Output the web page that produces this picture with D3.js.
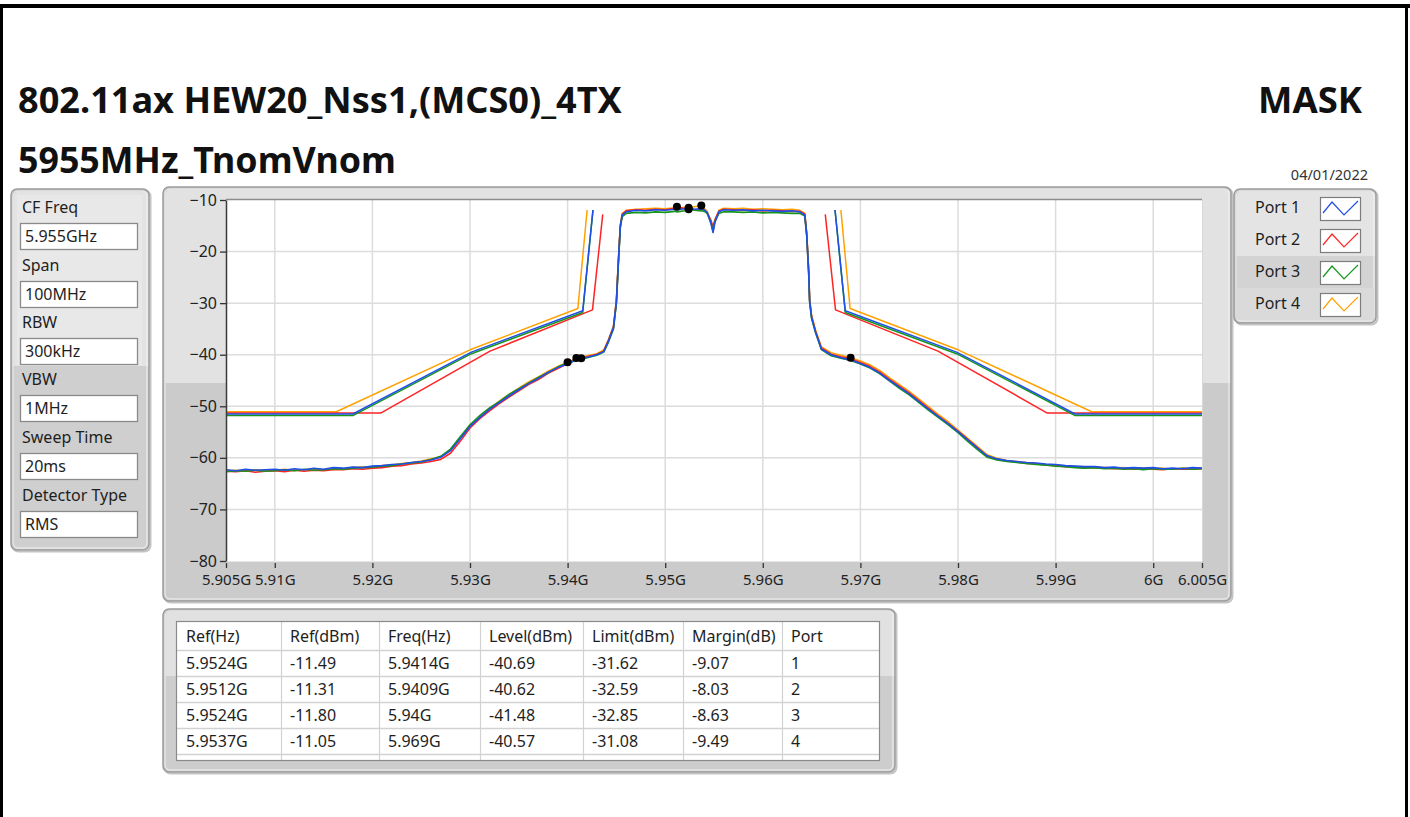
<!DOCTYPE html>
<html>
<head>
<meta charset="utf-8">
<script src="https://cdn.jsdelivr.net/npm/d3@7"></script>
<style>
  html, body { margin: 0; padding: 0; background: #ffffff; }
  svg { display: block; font-family: "Noto Sans", "Open Sans", sans-serif; }
</style>
</head>
<body>
<svg id="chart" width="1410" height="817"></svg>
<script>
// ---------- header texts ----------
const titleLine1 = "802.11ax HEW20_Nss1,(MCS0)_4TX";
const titleLine2 = "5955MHz_TnomVnom";
const modeLabel = "MASK";
const testDate = "04/01/2022";

// ---------- analyzer settings panel ----------
const settingNames = ["CF Freq", "Span", "RBW", "VBW", "Sweep Time", "Detector Type"];
const settingValues = ["5.955GHz", "100MHz", "300kHz", "1MHz", "20ms", "RMS"];

// ---------- axes ----------
const freqDomain = [5.905, 6.005];          // GHz
const levelDomain = [-80, -10];             // dBm
const xTickValues = [5.905, 5.91, 5.92, 5.93, 5.94, 5.95, 5.96, 5.97, 5.98, 5.99, 6.0, 6.005];
const xTickLabels = ["5.905G", "5.91G", "5.92G", "5.93G", "5.94G", "5.95G", "5.96G", "5.97G", "5.98G", "5.99G", "6G", "6.005G"];
const yTickValues = [-10, -20, -30, -40, -50, -60, -70, -80];

// ---------- ports ----------
const portNames = ["Port 1", "Port 2", "Port 3", "Port 4"];
const portColors = ["#1f4fe6", "#ff2424", "#17961b", "#ffa200"];

// ---------- measured spectrum (GHz / dBm) ----------
const traceFreq = [
  5.905, 5.906, 5.907, 5.908, 5.909, 5.910, 5.911, 5.912, 5.913, 5.914,
  5.915, 5.916, 5.917, 5.918, 5.919, 5.920, 5.921, 5.922, 5.923, 5.924,
  5.925, 5.926, 5.927, 5.928, 5.929, 5.930, 5.931, 5.932, 5.933, 5.934,
  5.935, 5.936, 5.937, 5.938, 5.939, 5.940, 5.9409, 5.9414, 5.942, 5.943,
  5.9437, 5.9442, 5.9447, 5.9450, 5.9452, 5.9454, 5.9456, 5.946, 5.947, 5.948,
  5.949, 5.950, 5.951, 5.9512, 5.952, 5.9524, 5.953, 5.9537, 5.954, 5.9543,
  5.9547, 5.9549, 5.9551, 5.9555, 5.956, 5.957, 5.958, 5.959, 5.960, 5.961,
  5.962, 5.963, 5.9638, 5.9643, 5.9645, 5.9647, 5.9648, 5.9650, 5.9654, 5.966,
  5.967, 5.968, 5.969, 5.970, 5.971, 5.972, 5.973, 5.974, 5.975, 5.976,
  5.977, 5.978, 5.979, 5.980, 5.981, 5.982, 5.983, 5.984, 5.985, 5.986,
  5.987, 5.988, 5.989, 5.990, 5.991, 5.992, 5.993, 5.994, 5.995, 5.996,
  5.997, 5.998, 5.999, 6.000, 6.001, 6.002, 6.003, 6.004, 6.005
];
const levelPort1 = [
  -62.3, -62.5, -62.2, -62.4, -62.3, -62.2, -62.4, -62.1, -62.3, -62.0,
  -62.2, -61.9, -62.0, -61.8, -61.9, -61.6, -61.5, -61.3, -61.2, -60.9,
  -60.7, -60.4, -59.9, -58.6, -56.3, -53.9, -52.2, -50.6, -49.3, -48.0,
  -46.8, -45.6, -44.6, -43.4, -42.5, -41.8, -41.0, -40.69, -40.5, -40.0,
  -39.4, -37.3, -34.8, -29.8, -22.1, -15.0, -12.9, -12.3, -12.0, -12.1,
  -11.9, -12.0, -11.8, -11.9, -11.7, -11.49, -11.8, -11.7, -11.9, -12.4,
  -14.6, -16.3, -14.3, -12.3, -11.9, -12.0, -11.9, -12.1, -12.0, -12.1,
  -12.2, -12.1, -12.3, -12.9, -16.8, -24.0, -29.6, -32.8, -35.6, -38.9,
  -40.0, -40.6, -41.0, -41.7, -42.5, -43.6, -45.0, -46.3, -47.6, -49.1,
  -50.6, -52.0, -53.4, -54.9, -56.5, -58.1, -59.6, -60.2, -60.5, -60.7,
  -60.9, -61.0, -61.2, -61.3, -61.5, -61.6, -61.7, -61.7, -61.9, -61.8,
  -62.0, -61.9, -62.0, -61.9, -62.1, -62.0, -62.1, -61.9, -62.0
];
const levelPort2 = [
  -62.6, -62.7, -62.5, -62.8, -62.6, -62.5, -62.7, -62.4, -62.6, -62.4,
  -62.5, -62.3, -62.3, -62.1, -62.2, -62.0, -61.9, -61.6, -61.5, -61.2,
  -61.0, -60.7, -60.3, -59.1, -56.8, -54.2, -52.4, -50.9, -49.5, -48.2,
  -47.0, -45.8, -44.8, -43.6, -42.7, -41.7, -40.62, -40.6, -40.4, -39.9,
  -39.3, -37.1, -34.6, -29.5, -22.0, -15.1, -12.8, -12.1, -11.9, -12.0,
  -11.8, -11.9, -11.6, -11.31, -11.7, -11.7, -11.9, -11.8, -12.0, -12.5,
  -14.0, -15.2, -13.8, -12.2, -11.8, -11.9, -12.0, -11.9, -12.1, -12.0,
  -12.1, -12.2, -12.2, -12.7, -16.5, -23.7, -29.4, -32.6, -35.4, -38.7,
  -39.9, -40.4, -40.8, -41.5, -42.3, -43.4, -44.8, -46.1, -47.4, -48.9,
  -50.4, -51.9, -53.3, -54.8, -56.4, -58.0, -59.7, -60.3, -60.6, -60.8,
  -61.1, -61.2, -61.4, -61.5, -61.7, -61.8, -61.9, -61.9, -62.0, -62.1,
  -62.1, -62.2, -62.1, -62.2, -62.3, -62.1, -62.2, -62.2, -62.1
];
const levelPort3 = [
  -62.7, -62.5, -62.6, -62.4, -62.6, -62.5, -62.3, -62.5, -62.2, -62.4,
  -62.3, -62.1, -62.2, -62.0, -61.9, -61.8, -61.6, -61.5, -61.2, -61.0,
  -60.8, -60.3, -59.7, -58.3, -55.9, -53.6, -51.8, -50.3, -49.1, -47.7,
  -46.6, -45.5, -44.4, -43.5, -42.4, -41.48, -41.1, -40.8, -40.6, -40.1,
  -39.5, -37.5, -35.0, -30.0, -22.4, -15.4, -13.2, -12.6, -12.4, -12.5,
  -12.3, -12.4, -12.2, -12.3, -12.1, -11.80, -12.0, -12.1, -12.2, -12.6,
  -14.4, -16.0, -14.1, -12.6, -12.3, -12.3, -12.4, -12.3, -12.5, -12.4,
  -12.5, -12.6, -12.6, -13.1, -17.0, -24.2, -29.9, -33.0, -35.7, -39.0,
  -40.2, -40.7, -41.1, -41.8, -42.6, -43.7, -45.1, -46.5, -47.8, -49.3,
  -50.8, -52.2, -53.6, -55.1, -56.8, -58.4, -59.9, -60.4, -60.7, -60.9,
  -61.1, -61.3, -61.4, -61.6, -61.7, -61.9, -62.0, -61.9, -62.1, -62.0,
  -62.2, -62.1, -62.3, -62.1, -62.2, -62.2, -62.0, -62.2, -62.1
];
const levelPort4 = [
  -62.5, -62.4, -62.6, -62.3, -62.5, -62.4, -62.2, -62.4, -62.3, -62.1,
  -62.3, -62.0, -62.1, -61.9, -61.8, -61.7, -61.5, -61.4, -61.1, -60.9,
  -60.6, -60.2, -59.8, -58.5, -56.1, -53.7, -51.9, -50.4, -49.0, -47.7,
  -46.5, -45.3, -44.3, -43.2, -42.3, -41.5, -40.8, -40.5, -40.2, -39.8,
  -39.1, -37.0, -34.5, -29.4, -21.8, -14.8, -12.6, -12.0, -11.8, -11.7,
  -11.6, -11.7, -11.5, -11.6, -11.4, -11.5, -11.3, -11.05, -11.6, -12.2,
  -14.3, -15.9, -14.0, -12.0, -11.6, -11.7, -11.6, -11.8, -11.7, -11.8,
  -11.9, -11.8, -12.0, -12.6, -16.4, -23.6, -29.3, -32.4, -35.2, -38.5,
  -39.6, -40.1, -40.57, -41.2, -42.0, -43.1, -44.5, -45.8, -47.1, -48.6,
  -50.1, -51.6, -53.0, -54.6, -56.2, -57.8, -59.4, -60.1, -60.5, -60.7,
  -60.9, -61.1, -61.3, -61.4, -61.6, -61.7, -61.8, -61.8, -61.9, -62.0,
  -61.9, -62.1, -62.0, -62.1, -62.0, -62.2, -62.0, -62.1, -62.0
];

// ---------- spectrum emission masks: [GHz, dBm] vertices, lower and upper side ----------
const maskPort1Low  = [[5.905, -51.49], [5.918, -51.49], [5.93015, -39.49], [5.94155, -31.49], [5.9426, -11.94]];
const maskPort1High = [[5.9674, -11.94], [5.96845, -31.49], [5.97985, -39.49], [5.992, -51.49], [6.005, -51.49]];
const maskPort2Low  = [[5.905, -51.31], [5.92085, -51.31], [5.93205, -39.31], [5.94255, -31.31], [5.9436, -12.8]];
const maskPort2High = [[5.9664, -12.8], [5.96745, -31.31], [5.97795, -39.31], [5.98915, -51.31], [6.005, -51.31]];
const maskPort3Low  = [[5.905, -51.80], [5.918, -51.80], [5.93015, -39.80], [5.94155, -31.80], [5.9426, -11.94]];
const maskPort3High = [[5.9674, -11.94], [5.96845, -31.80], [5.97985, -39.80], [5.992, -51.80], [6.005, -51.80]];
const maskPort4Low  = [[5.905, -51.05], [5.9163, -51.05], [5.930, -39.05], [5.94105, -31.05], [5.942, -11.94]];
const maskPort4High = [[5.968, -11.94], [5.96895, -31.05], [5.980, -39.05], [5.9937, -51.05], [6.005, -51.05]];

// ---------- results table ----------
const tableHeaders = ["Ref(Hz)", "Ref(dBm)", "Freq(Hz)", "Level(dBm)", "Limit(dBm)", "Margin(dB)", "Port"];
const refFreqGHz = [5.9524, 5.9512, 5.9524, 5.9537];
const refLevel = [-11.49, -11.31, -11.80, -11.05];
const worstFreqGHz = [5.9414, 5.9409, 5.94, 5.969];
const worstLevel = [-40.69, -40.62, -41.48, -40.57];
const limitLevel = [-31.62, -32.59, -32.85, -31.08];
const marginDb = [-9.07, -8.03, -8.63, -9.49];
const portNumbers = [1, 2, 3, 4];

// ======================================================================
const svg = d3.select("#chart");
const FONT = '"Noto Sans", "Open Sans", sans-serif';
const LABEL_SIZE = 16;
const XTICK_SIZE = 15;

// page frame
svg.append("rect").attr("x", 0).attr("y", 0).attr("width", 1410).attr("height", 817).attr("fill", "#ffffff");
svg.append("rect").attr("x", 0).attr("y", 4).attr("width", 1410).attr("height", 4).attr("fill", "#000");
svg.append("rect").attr("x", 0).attr("y", 4).attr("width", 3).attr("height", 813).attr("fill", "#000");
svg.append("rect").attr("x", 1405).attr("y", 4).attr("width", 3).attr("height", 813).attr("fill", "#000");

// text that is scaled to a given width
function fitText(sel, width) {
  const fs = parseFloat(sel.attr("font-size"));
  const w = sel.node().getComputedTextLength();
  if (w > 0) sel.attr("font-size", (fs * width / w).toFixed(2));
  return sel;
}

fitText(svg.append("text").attr("x", 18).attr("y", 113).attr("font-size", 32)
  .attr("font-weight", 700).attr("fill", "#111").text(titleLine1), 604);
fitText(svg.append("text").attr("x", 18).attr("y", 173).attr("font-size", 32)
  .attr("font-weight", 700).attr("fill", "#111").text(titleLine2), 378);
const modeText = svg.append("text").attr("x", 1362).attr("y", 113).attr("font-size", 32)
  .attr("font-weight", 700).attr("fill", "#111").attr("text-anchor", "end").text(modeLabel);
fitText(modeText, 104);
svg.append("text").attr("x", 1368).attr("y", 180).attr("font-size", 14.5)
  .attr("fill", "#333").attr("text-anchor", "end").text(testDate);

// raised grey panel, lighter at the top, darker below splitY
let panelId = 0;
function panel(x, y, w, h, splitY, light, dark) {
  const id = "pclip" + (panelId++);
  svg.append("clipPath").attr("id", id).append("rect")
    .attr("x", x).attr("y", y).attr("width", w).attr("height", h).attr("rx", 6);
  const g = svg.append("g").attr("clip-path", `url(#${id})`);
  g.append("rect").attr("x", x).attr("y", y).attr("width", w).attr("height", h).attr("fill", light);
  if (splitY !== null) {
    g.append("rect").attr("x", x).attr("y", splitY).attr("width", w).attr("height", y + h - splitY).attr("fill", dark);
  }
  // soft drop shadow on right / bottom
  svg.append("rect").attr("x", x + 1.5).attr("y", y + 1.5).attr("width", w).attr("height", h).attr("rx", 6)
    .attr("fill", "none").attr("stroke", "#c4c4c4").attr("stroke-width", 2);
  svg.append("rect").attr("x", x).attr("y", y).attr("width", w).attr("height", h).attr("rx", 6)
    .attr("fill", "none").attr("stroke", "#9b9b9b").attr("stroke-width", 1.5);
  svg.append("rect").attr("x", x + 2).attr("y", y + 2).attr("width", w - 4).attr("height", h - 4).attr("rx", 5)
    .attr("fill", "none").attr("stroke", "#f2f2f2").attr("stroke-width", 1);
  return g;
}

// ---------- settings panel ----------
panel(11, 189, 138, 361, 366, "#e3e3e3", "#cfcfcf");
svg.append("rect").attr("x", 17).attr("y", 195).attr("width", 125).attr("height", 170).attr("fill", "#e8e8e8");
const setTop = [208, 266, 323, 380, 438, 496];
settingNames.forEach((name, i) => {
  svg.append("text").attr("x", 22).attr("y", setTop[i] + 5).attr("font-size", LABEL_SIZE)
    .attr("fill", "#1e1e1e").text(name);
  svg.append("rect").attr("x", 20.5).attr("y", setTop[i] + 15.5).attr("width", 117).attr("height", 26)
    .attr("fill", "#fff").attr("stroke", "#8a8a8a").attr("stroke-width", 1.3);
  svg.append("text").attr("x", 25).attr("y", setTop[i] + 34).attr("font-size", LABEL_SIZE)
    .attr("fill", "#1e1e1e").text(settingValues[i]);
});

// ---------- graph panel ----------
panel(163, 187, 1068, 414, 383, "#e2e2e2", "#cbcbcb");

const plot = { left: 226, right: 1202, top: 200, bottom: 561 };
const x = d3.scaleLinear().domain(freqDomain).range([plot.left, plot.right]);
const y = d3.scaleLinear().domain(levelDomain).range([plot.bottom, plot.top]);

svg.append("rect").attr("x", plot.left).attr("y", plot.top)
  .attr("width", plot.right - plot.left).attr("height", plot.bottom - plot.top).attr("fill", "#fff");

// grid
const grid = svg.append("g");
grid.selectAll("line.vx").data(xTickValues.slice(1, -1)).join("line")
  .attr("x1", d => x(d)).attr("x2", d => x(d)).attr("y1", plot.top).attr("y2", plot.bottom)
  .attr("stroke", "#dcdcdc").attr("stroke-width", 1.5);
grid.selectAll("line.hy").data(yTickValues.slice(1, -1)).join("line")
  .attr("x1", plot.left).attr("x2", plot.right).attr("y1", d => y(d)).attr("y2", d => y(d))
  .attr("stroke", "#dcdcdc").attr("stroke-width", 1.5);

svg.append("clipPath").attr("id", "plotClip").append("rect")
  .attr("x", plot.left).attr("y", plot.top - 2)
  .attr("width", plot.right - plot.left).attr("height", plot.bottom - plot.top + 2);
const inner = svg.append("g").attr("clip-path", "url(#plotClip)");

const line = d3.line().x(d => x(d[0])).y(d => y(d[1]));

// masks and traces, drawn back to front: Port 4, 2, 3, 1
const masks = [
  [maskPort1Low, maskPort1High],
  [maskPort2Low, maskPort2High],
  [maskPort3Low, maskPort3High],
  [maskPort4Low, maskPort4High]
];
const levels = [levelPort1, levelPort2, levelPort3, levelPort4];
const drawOrder = [3, 1, 2, 0];
drawOrder.forEach(p => {
  masks[p].forEach(seg => {
    inner.append("path").attr("d", line(seg)).attr("fill", "none")
      .attr("stroke", portColors[p]).attr("stroke-width", 1.5).attr("stroke-linejoin", "round");
  });
});
drawOrder.forEach(p => {
  const pts = traceFreq.map((f, i) => [f, levels[p][i]]);
  inner.append("path").attr("d", line(pts)).attr("fill", "none")
    .attr("stroke", portColors[p]).attr("stroke-width", 1.6).attr("stroke-linejoin", "round");
});

// peak and worst-margin markers
const markerPts = refFreqGHz.map((f, i) => [f, refLevel[i]])
  .concat(worstFreqGHz.map((f, i) => [f, worstLevel[i]]));
inner.selectAll("circle.mk").data(markerPts).join("circle")
  .attr("cx", d => x(d[0])).attr("cy", d => y(d[1])).attr("r", 4).attr("fill", "#000");

// plot border
svg.append("line").attr("x1", plot.left).attr("x2", plot.right).attr("y1", plot.top - 0.5).attr("y2", plot.top - 0.5)
  .attr("stroke", "#8c8c8c").attr("stroke-width", 1.5);
svg.append("line").attr("x1", plot.right + 0.5).attr("x2", plot.right + 0.5).attr("y1", plot.top).attr("y2", plot.bottom)
  .attr("stroke", "#d8d8d8").attr("stroke-width", 1);
svg.append("line").attr("x1", plot.left).attr("x2", plot.right).attr("y1", plot.bottom + 0.5).attr("y2", plot.bottom + 0.5)
  .attr("stroke", "#e6e6e6").attr("stroke-width", 1);

// axes
const yAxis = svg.append("g").attr("transform", `translate(${plot.left},0)`)
  .call(d3.axisLeft(y).tickValues(yTickValues).tickSize(6).tickSizeOuter(0).tickPadding(3)
    .tickFormat(d3.format("d")));
yAxis.select(".domain").attr("stroke", "#3a3a3a").attr("stroke-width", 1.5);
yAxis.selectAll(".tick line").attr("stroke", "#333").attr("stroke-width", 1.3);
yAxis.selectAll(".tick text").attr("font-size", LABEL_SIZE).attr("font-family", FONT).attr("fill", "#222");

const xAxis = svg.append("g").attr("transform", `translate(0,${plot.bottom + 2})`)
  .call(d3.axisBottom(x).tickValues(xTickValues).tickSize(5).tickSizeOuter(0).tickPadding(6)
    .tickFormat((d, i) => xTickLabels[i]));
xAxis.select(".domain").remove();
xAxis.selectAll(".tick line").attr("stroke", "#333").attr("stroke-width", 1.3);
xAxis.selectAll(".tick text").attr("font-size", XTICK_SIZE).attr("font-family", FONT).attr("fill", "#222");

// ---------- legend panel ----------
panel(1234, 189, 142, 134, 256, "#e4e4e4", "#d3d3d3");
svg.append("rect").attr("x", 1236).attr("y", 288).attr("width", 138).attr("height", 32).attr("fill", "#dadada");
const legendY = [208, 240, 272, 304];
portNames.forEach((name, i) => {
  const cy = legendY[i];
  svg.append("text").attr("x", 1255).attr("y", cy + 5).attr("font-size", LABEL_SIZE)
    .attr("fill", "#1e1e1e").text(name);
  const bx = 1320, by = cy - 11;
  svg.append("rect").attr("x", bx + 0.5).attr("y", by + 0.5).attr("width", 40).attr("height", 23)
    .attr("fill", "#fff").attr("stroke", "#7d7d7d").attr("stroke-width", 1.2);
  const zig = [[bx + 3, by + 16], [bx + 12, by + 5], [bx + 24, by + 18], [bx + 38, by + 4]];
  svg.append("path").attr("d", d3.line()(zig)).attr("fill", "none")
    .attr("stroke", portColors[i]).attr("stroke-width", 1.2);
});

// ---------- results table ----------
panel(163, 609, 732, 163, 676, "#e1e1e1", "#cdcdcd");
const colX = [177, 281, 379, 480, 583, 683, 782, 879];
const rowY = [622, 650, 676, 702, 728, 754, 760];
svg.append("rect").attr("x", colX[0]).attr("y", rowY[0]).attr("width", colX[7] - colX[0])
  .attr("height", rowY[6] - rowY[0]).attr("fill", "#fff");
const tbl = svg.append("g");
tbl.selectAll("line.r").data(rowY.slice(1, 6)).join("line")
  .attr("x1", colX[0]).attr("x2", colX[7]).attr("y1", d => d + 0.5).attr("y2", d => d + 0.5)
  .attr("stroke", "#d2d2d2").attr("stroke-width", 1.5);
tbl.selectAll("line.c").data(colX.slice(1, 7)).join("line")
  .attr("x1", d => d + 0.5).attr("x2", d => d + 0.5).attr("y1", rowY[0]).attr("y2", rowY[6])
  .attr("stroke", "#d2d2d2").attr("stroke-width", 1.2);
svg.append("rect").attr("x", colX[0] - 0.5).attr("y", rowY[0] - 0.5).attr("width", colX[7] - colX[0] + 1)
  .attr("height", rowY[6] - rowY[0] + 1).attr("fill", "none").attr("stroke", "#8a8a8a").attr("stroke-width", 1.2);

const fmtG = f => `${+f.toFixed(4)}G`;
const fmt2 = v => v.toFixed(2);
const tableRows = portNumbers.map((p, i) => [
  fmtG(refFreqGHz[i]), fmt2(refLevel[i]), fmtG(worstFreqGHz[i]),
  fmt2(worstLevel[i]), fmt2(limitLevel[i]), fmt2(marginDb[i]), String(p)
]);
tableHeaders.forEach((h, c) => {
  tbl.append("text").attr("x", colX[c] + 9).attr("y", 642).attr("font-size", LABEL_SIZE)
    .attr("fill", "#1e1e1e").text(h);
});
tableRows.forEach((row, r) => {
  row.forEach((cell, c) => {
    tbl.append("text").attr("x", colX[c] + 9).attr("y", rowY[r + 1] + 19).attr("font-size", LABEL_SIZE)
      .attr("fill", "#1e1e1e").text(cell);
  });
});
</script>
</body>
</html>
